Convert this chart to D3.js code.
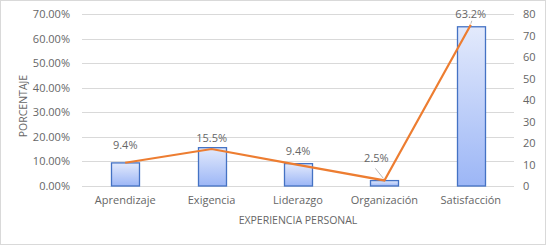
<!DOCTYPE html>
<html>
<head>
<meta charset="utf-8">
<script src="https://cdn.jsdelivr.net/npm/d3@7"></script>
<style>
  body { margin: 0; background: #fff; }
  text { font-family: "Open Sans", "Noto Sans", sans-serif; fill: #666666; }
</style>
</head>
<body>
<div id="chart"></div>
<script>
// data
let categories = ["Aprendizaje", "Exigencia", "Liderazgo", "Organización", "Satisfacción"];
let barValues = [9.4, 15.6, 9.1, 2.2, 64.8];      // left axis, %
let lineValues = [10.8, 17.2, 9.8, 2.6, 75];      // right axis
let labels = ["9.4%", "15.5%", "9.4%", "2.5%", "63.2%"];
let leftTicks = [0, 10, 20, 30, 40, 50, 60, 70];
let rightTicks = [0, 10, 20, 30, 40, 50, 60, 70, 80];

var W = 546, H = 245;
var margin = {top: 14, right: 32, bottom: 59, left: 82},
    width = W - margin.left - margin.right,
    height = H - margin.top - margin.bottom;

var svg = d3.select("#chart").append("svg")
    .attr("width", W).attr("height", H);

// outer border
svg.append("rect")
    .attr("x", 0.5).attr("y", 0.5)
    .attr("width", W - 1).attr("height", H - 1)
    .attr("fill", "#fff").attr("stroke", "#d9d9d9");

var defs = svg.append("defs");
var grad = defs.append("linearGradient")
    .attr("id", "barGrad").attr("x1", 0).attr("y1", 0).attr("x2", 0).attr("y2", 1);
grad.append("stop").attr("offset", "0%").attr("stop-color", "#e3eafc");
grad.append("stop").attr("offset", "100%").attr("stop-color", "#9cb6f6");

var g = svg.append("g").attr("transform", `translate(${margin.left},${margin.top})`);

var x = d3.scaleBand().domain(categories).range([0, width]);
var y = d3.scaleLinear().domain([0, 70]).range([height, 0]);
var y2 = d3.scaleLinear().domain([0, 80]).range([height, 0]);

// gridlines
g.append("g").selectAll("line")
    .data(leftTicks).join("line")
    .attr("x1", 0).attr("x2", width)
    .attr("y1", d => Math.round(y(d)) + 0.5).attr("y2", d => Math.round(y(d)) + 0.5)
    .attr("stroke", "#d9d9d9");

// left axis
g.append("g")
    .call(d3.axisLeft(y).tickValues(leftTicks).tickFormat(d => d.toFixed(2) + "%").tickSize(0).tickPadding(12))
    .call(a => a.select(".domain").remove())
    .selectAll("text").style("font-size", "11px").attr("fill", "#666666");

// right axis
g.append("g")
    .attr("transform", `translate(${width},0)`)
    .call(d3.axisRight(y2).tickValues(rightTicks).tickSize(0).tickPadding(9))
    .call(a => a.select(".domain").remove())
    .selectAll("text").style("font-size", "11px").attr("fill", "#666666");

// x axis
g.append("g")
    .attr("transform", `translate(0,${height})`)
    .call(d3.axisBottom(x).tickSize(0).tickPadding(10))
    .call(a => a.select(".domain").remove())
    .selectAll("text").style("font-size", "11px").attr("fill", "#666666");

// bars
var bw = 28;
g.append("g").selectAll("rect")
    .data(barValues).join("rect")
    .attr("x", (d, i) => Math.round(x(categories[i]) + x.bandwidth() / 2 - bw / 2) + 0.5)
    .attr("y", d => y(d))
    .attr("width", bw)
    .attr("height", d => height - y(d))
    .attr("fill", "url(#barGrad)")
    .attr("stroke", "#4472c4")
    .attr("stroke-width", 1.3);

// line
var line = d3.line()
    .x((d, i) => x(categories[i]) + x.bandwidth() / 2)
    .y(d => y2(d));
g.append("path")
    .datum(lineValues)
    .attr("d", line)
    .attr("fill", "none")
    .attr("stroke", "#ed7d31")
    .attr("stroke-width", 2.2);

// data labels (offset from the line points)
var labelOffsets = [[0, -14], [0, -7], [0, -10], [-8, -18], [0, -7]];
g.append("g").selectAll("text")
    .data(labels).join("text")
    .attr("x", (d, i) => x(categories[i]) + x.bandwidth() / 2 + labelOffsets[i][0])
    .attr("y", (d, i) => y2(lineValues[i]) + labelOffsets[i][1])
    .attr("text-anchor", "middle")
    .style("font-size", "11px")
    .text(d => d);

// leader lines for crowded labels
g.append("line")
    .attr("x1", x(categories[3]) + x.bandwidth() / 2 - 9).attr("y1", y2(lineValues[3]) - 12)
    .attr("x2", x(categories[3]) + x.bandwidth() / 2 - 1).attr("y2", y2(lineValues[3]) - 2)
    .attr("stroke", "#a6a6a6").attr("stroke-width", 0.8);
g.append("line")
    .attr("x1", x(categories[4]) + x.bandwidth() / 2 + 1).attr("y1", y2(lineValues[4]) - 4)
    .attr("x2", x(categories[4]) + x.bandwidth() / 2).attr("y2", y2(lineValues[4]) - 1)
    .attr("stroke", "#a6a6a6").attr("stroke-width", 0.8);

// axis titles
svg.append("text")
    .attr("transform", `translate(27,${margin.top + height / 2 + 6}) rotate(-90)`)
    .attr("text-anchor", "middle")
    .style("font-size", "10.5px")
    .text("PORCENTAJE");

svg.append("text")
    .attr("x", margin.left + width / 2)
    .attr("y", 224)
    .attr("text-anchor", "middle")
    .style("font-size", "10.5px")
    .text("EXPERIENCIA PERSONAL");
</script>
</body>
</html>
